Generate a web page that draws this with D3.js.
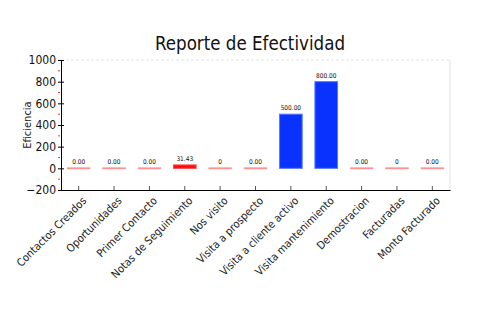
<!DOCTYPE html>
<html>
<head>
<meta charset="utf-8">
<script src="https://cdn.jsdelivr.net/npm/d3@7"></script>
<style>
  body { margin: 0; background: #fff; }
  svg text { font-family: "DejaVu Sans Condensed", "DejaVu Sans", sans-serif; }
</style>
</head>
<body>
<svg id="chart" width="500" height="330"></svg>
<script>
// Report data
const categories = ["Contactos Creados", "Oportunidades", "Primer Contacto", "Notas de Seguimiento",
  "Nos visito", "Visita a prospecto", "Visita a cliente activo", "Visita mantenimiento",
  "Demostracion", "Facturadas", "Monto Facturado"];
const values = [0, 0, 0, 31.43, 0, 0, 500, 800, 0, 0, 0];
const valueLabels = ["0.00", "0.00", "0.00", "31.43", "0", "0.00", "500.00", "800.00", "0.00", "0", "0.00"];
const yTicks = [-200, 0, 200, 400, 600, 800, 1000];
const yMinorTicks = [-100, 100, 300, 500, 700, 900];

const svg = d3.select("#chart");
const margin = { left: 61, right: 50, top: 60, bottom: 140 };
const W = 500, H = 330;

const x = d3.scaleBand().domain(categories).range([margin.left, W - margin.right]).paddingInner(0.36).paddingOuter(0.18);
const y = d3.scaleLinear().domain([-200, 1000]).range([H - margin.bottom, margin.top]);

// Plot frame (light)
svg.append("line").attr("x1", margin.left).attr("x2", W - margin.right)
  .attr("y1", y(1000)).attr("y2", y(1000)).attr("stroke", "#e4e4e4").attr("stroke-dasharray", "3,2");
svg.append("line").attr("x1", W - margin.right).attr("x2", W - margin.right)
  .attr("y1", y(1000)).attr("y2", y(-200)).attr("stroke", "#e0e0e0");

// Title
svg.append("text").attr("x", 250).attr("y", 50).attr("text-anchor", "middle")
  .attr("font-size", 19).attr("fill", "#111").attr("textLength", 190).attr("lengthAdjust", "spacingAndGlyphs")
  .text("Reporte de Efectividad");

// Y axis
const yAxis = svg.append("g").attr("transform", `translate(${margin.left},0)`)
  .call(d3.axisLeft(y).tickValues(yTicks).tickFormat(d3.format("d")).tickSize(3).tickSizeOuter(0));
yAxis.select(".domain").attr("stroke", "#000");
yAxis.selectAll(".tick line").attr("x2", 3).attr("x1", -3).attr("stroke", "#000");
yAxis.selectAll(".tick text").attr("x", -5).attr("font-size", 12).attr("fill", "#111");

// Minor red ticks
svg.append("g").selectAll("line").data(yMinorTicks).join("line")
  .attr("x1", margin.left - 3).attr("x2", margin.left - 1)
  .attr("y1", d => y(d)).attr("y2", d => y(d))
  .attr("stroke", "#ff3333").attr("stroke-width", 1);

// Y title
svg.append("text").attr("transform", `translate(31,${(y(1000) + y(-200)) / 2}) rotate(-90)`)
  .attr("text-anchor", "middle").attr("font-size", 11).attr("fill", "#222").text("Eficiencia");

// X axis along the bottom
const xAxis = svg.append("g").attr("transform", `translate(0,${y(-200)})`)
  .call(d3.axisBottom(x).tickSize(0).tickSizeOuter(0));
xAxis.select(".domain").attr("stroke", "#000");
xAxis.selectAll(".tick line").remove();
xAxis.selectAll(".tick").append("line").attr("y1", 0).attr("y2", -4).attr("stroke", "#555");
xAxis.selectAll(".tick text")
  .attr("font-size", 11).attr("fill", "#222")
  .attr("text-anchor", "end")
  .attr("transform", "translate(3,6) rotate(-45)")
  .attr("dy", "0.7em").attr("x", 0).attr("y", 0);

// Bars
const bw = x.bandwidth();
const bars = svg.append("g");
categories.forEach((c, i) => {
  const v = values[i];
  const x0 = x(c);
  if (v >= 400) {
    bars.append("rect").attr("x", x0).attr("y", y(v)).attr("width", bw).attr("height", y(0) - y(v))
      .attr("fill", "#0a32ff").attr("stroke", "#5577ff").attr("stroke-width", 1);
  } else if (v > 0) {
    bars.append("rect").attr("x", x0).attr("y", y(v)).attr("width", bw).attr("height", Math.max(2, y(0) - y(v)))
      .attr("fill", "#ff0a0a").attr("stroke", "#ff4444").attr("stroke-width", 1);
  } else {
    bars.append("rect").attr("x", x0).attr("y", y(0) - 0.5).attr("width", bw).attr("height", 1)
      .attr("fill", "#ff5555").attr("stroke", "#ff9999").attr("stroke-width", 0.8);
  }
  bars.append("text").attr("x", x0 + bw / 2).attr("y", y(v) - 4)
    .attr("text-anchor", "middle").attr("font-size", 6.5).attr("fill", "#111")
    .text(valueLabels[i]);
});
</script>
</body>
</html>
